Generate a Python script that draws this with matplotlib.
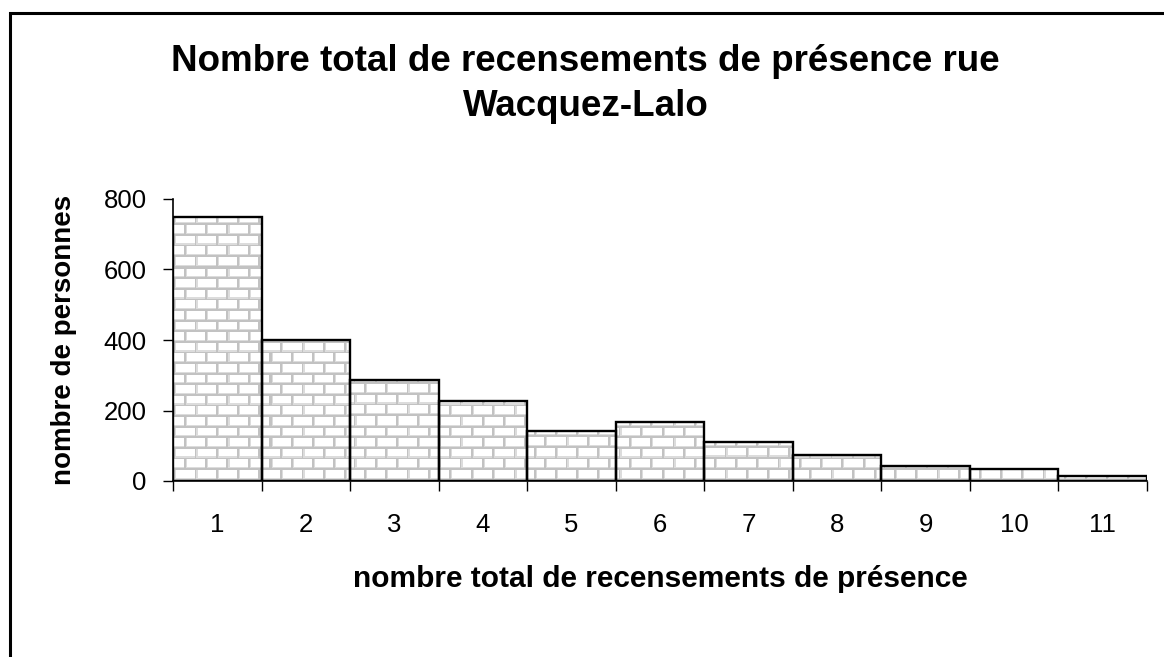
import numpy as np
import matplotlib
matplotlib.use("Agg")
import matplotlib.pyplot as plt
from matplotlib.patches import Rectangle

plt.rcParams['font.family'] = ['Liberation Sans', 'DejaVu Sans']

categories = ['1', '2', '3', '4', '5', '6', '7', '8', '9', '10', '11']
values = [750, 400, 287, 226, 142, 167, 111, 73, 42, 35, 15]
yticks = [0, 200, 400, 600, 800]
title = "Nombre total de recensements de présence rue\nWacquez-Lalo"
xlabel = "nombre total de recensements de présence"
ylabel = "nombre de personnes"

W_PX, H_PX = 1164, 657
fig = plt.figure(figsize=(W_PX / 100, H_PX / 100), dpi=100)
fig.patch.set_facecolor('white')

# outer frame (extends beyond bottom/right)
fig.patches.append(Rectangle((9.5 / W_PX, -0.1), 1.2, (1 - 13 / H_PX) + 0.1,
                             transform=fig.transFigure, fill=False,
                             edgecolor='black', linewidth=2.2, zorder=10))

ax_l, ax_r = 173 / W_PX, 1147 / W_PX
ax_b, ax_t = 1 - 481 / H_PX, 1 - 199 / H_PX
ax = fig.add_axes([ax_l, ax_b, ax_r - ax_l, ax_t - ax_b])

x = np.arange(1, len(categories) + 1)
bars = ax.bar(x, values, width=1.0, facecolor='none', edgecolor='black',
              linewidth=1.7, zorder=3)

# brick texture in screen pixels
Hpx = int(round((ax_t - ax_b) * H_PX))
Wpx = int(round((ax_r - ax_l) * W_PX))
yy, xx = np.mgrid[0:Hpx, 0:Wpx].astype(float)
bh = 10.6
bw = 21.2
row = np.floor(yy / bh)
xoff = xx + (row % 2) * bw / 2
fy = yy % bh
fx = xoff % bw
tex = np.ones_like(yy)
tex = np.where((fy < 3.0) | (fx < 3.0), 0.86, tex)
tex = np.where((fy < 1.8) | (fx < 1.8), 0.76, tex)

for b in bars:
    im = ax.imshow(tex, cmap='gray', vmin=0, vmax=1, aspect='auto',
                   extent=(0.5, len(categories) + 0.5, 0, 800),
                   interpolation='nearest', origin='lower', zorder=2)
    im.set_clip_path(b)

ax.set_xlim(0.5, len(categories) + 0.5)
ax.set_ylim(0, 800)
ax.set_yticks(yticks)
ax.set_yticklabels([str(v) for v in yticks])
ax.set_xticks(x)
ax.set_xticklabels(categories)
ax.set_xticks(np.arange(0.5, len(categories) + 1, 1.0), minor=True)
ax.tick_params(axis='x', which='major', length=0, pad=23, labelsize=18.5)
ax.tick_params(axis='x', which='minor', length=7, width=1, direction='out')
ax.tick_params(axis='y', length=7, width=1, direction='out', pad=12, labelsize=18.5)

for s in ['top', 'right']:
    ax.spines[s].set_visible(False)
ax.spines['left'].set_linewidth(1.2)
ax.spines['bottom'].set_linewidth(1.2)

ax.set_xlabel(xlabel, fontsize=21.5, fontweight='bold', labelpad=20)
ax.set_ylabel(ylabel, fontsize=20, fontweight='bold', labelpad=19)

fig.text(0.503, 1 - 84 / H_PX, title, ha='center', va='center',
         fontsize=26.5, fontweight='bold', linespacing=1.38)

fig.savefig('out.png', dpi=100, facecolor='white')
